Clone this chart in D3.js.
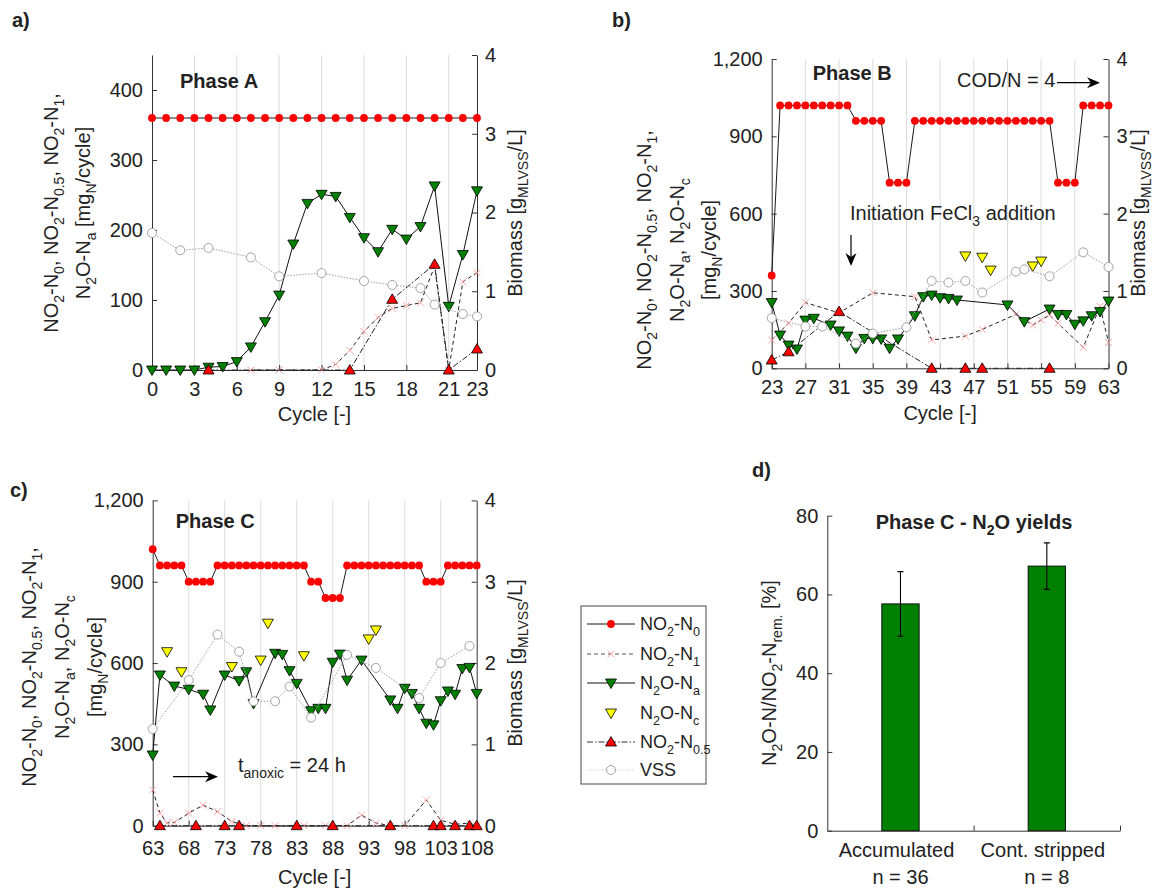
<!DOCTYPE html>
<html><head><meta charset="utf-8">
<script src="https://cdn.jsdelivr.net/npm/d3@7"></script>
<style>body{margin:0;background:#fff}svg{display:block}</style>
</head><body>
<svg id="chart" width="1157" height="890"></svg>
<script>
// ================= DATA =================
// Panel a (Phase A) : [cycle, value]
const A_N0 = [[0,360],[1,360],[2,360],[3,360],[4,360],[5,360],[6,360],[7,360],[8,360],[9,360],[10,360],[11,360],[12,360],[13,360],[14,360],[15,360],[16,360],[17,360],[18,360],[19,360],[20,360],[21,360],[22,360],[23,360]];
const A_N1 = [[7,0],[9,0],[12,0],[13,8],[14,28],[15,55],[16,75],[17,88],[18,92],[19,96],[20,148],[21,0],[22,126],[23,139]];
const A_N2Oa = [[0,0],[1,0],[2,0],[3,0],[4,4],[5,5],[6,12],[7,33],[8,69],[9,107],[10,180],[11,238],[12,251],[13,248],[14,218],[15,189],[16,169],[17,201],[18,187],[19,205],[20,263],[21,91],[22,165],[23,256]];
const A_N2Oc = [];
const A_N05 = [[4,0],[14,0],[17,101],[20,151],[21,0],[23,30]];
const A_VSS = [[0,1.74],[2,1.52],[4,1.55],[7,1.43],[9,1.19],[12,1.23],[15,1.13],[17,1.08],[19,1.04],[20,0.83],[22,0.71],[23,0.68]];

// Panel b (Phase B)
const B_N0 = [[23,360],[24,1020],[25,1020],[26,1020],[27,1020],[28,1020],[29,1020],[30,1020],[31,1020],[32,1020],[33,960],[34,960],[35,960],[36,960],[37,720],[38,720],[39,720],[40,960],[41,960],[42,960],[43,960],[44,960],[45,960],[46,960],[47,960],[48,960],[49,960],[50,960],[51,960],[52,960],[53,960],[54,960],[55,960],[56,960],[57,720],[58,720],[59,720],[60,1020],[61,1020],[62,1020],[63,1020]];
const B_N1 = [[23,110],[25,175],[27,255],[31,215],[35,293],[40,278],[42,110],[46,125],[48,151],[52,209],[54,168],[55,187],[56,207],[57,175],[60,81],[62,240],[63,100]];
const B_N2Oa = [[23,255],[24,129],[25,90],[26,75],[27,187],[28,194],[30,168],[31,145],[32,125],[33,78],[34,116],[35,116],[36,114],[37,78],[38,114],[40,204],[41,278],[42,284],[43,274],[44,271],[45,265],[51,246],[53,181],[56,230],[57,209],[58,209],[59,171],[60,184],[61,204],[62,220],[63,261]];
const B_N2Oc = [[46,436],[48,431],[49,381],[54,397],[55,416]];
const B_N05 = [[23,32],[25,64],[31,220],[42,0],[46,0],[48,0],[56,0]];
const B_VSS = [[23,0.65],[27,0.54],[29,0.54],[33,0.32],[35,0.45],[39,0.53],[42,1.13],[44,1.11],[46,1.13],[48,0.98],[52,1.25],[53,1.28],[56,1.19],[60,1.50],[63,1.31]];

// Panel c (Phase C)
const C_N0 = [[63,1020],[64,960],[65,960],[66,960],[67,960],[68,900],[69,900],[70,900],[71,900],[72,960],[73,960],[74,960],[75,960],[76,960],[77,960],[78,960],[79,960],[80,960],[81,960],[82,960],[83,960],[84,960],[85,900],[86,900],[87,840],[88,840],[89,840],[90,960],[91,960],[92,960],[93,960],[94,960],[95,960],[96,960],[97,960],[98,960],[99,960],[100,960],[101,900],[102,900],[103,900],[104,960],[105,960],[106,960],[107,960],[108,960]];
const C_N1 = [[63,132],[64,47],[65,10],[66,12],[68,46],[70,76],[72,52],[74,15],[76,0],[78,0],[80,0],[84,0],[87,0],[90,0],[92,39],[94,10],[96,0],[98,0],[101,95],[103,20],[105,5],[107,10],[108,0]];
const C_N2Oa = [[63,261],[64,556],[66,515],[68,503],[70,485],[71,427],[73,556],[75,535],[76,568],[77,451],[80,636],[81,632],[82,572],[83,525],[85,424],[86,433],[87,433],[88,603],[89,633],[90,537],[92,611],[96,464],[97,433],[98,507],[99,488],[100,433],[101,378],[102,372],[103,461],[104,497],[105,485],[106,580],[107,584],[108,488]];
const C_N2Oc = [[65,642],[67,568],[74,587],[78,611],[79,747],[84,627],[93,689],[94,722]];
const C_N05 = [[64,0],[69,0],[73,0],[75,0],[83,0],[88,0],[96,0],[102,0],[103,0],[105,0],[107,0],[108,0]];
const C_VSS = [[63,1.19],[68,1.79],[72,2.35],[75,2.14],[77,1.53],[80,1.53],[82,1.71],[85,1.33],[90,2.10],[94,1.94],[100,1.57],[103,2.00],[107,2.21]];

// Panel d (Phase C - N2O yields)
const YIELD_CATS = ["Accumulated", "Cont. stripped"];
const YIELD_N = ["n = 36", "n = 8"];
const YIELD_MEAN = [57.6, 67.2];
const YIELD_ERR = [8.2, 5.9];

// Tick values
const A_CYCLE_TICKS = [0,3,6,9,12,15,18,21,23];
const B_CYCLE_TICKS = [23,27,31,35,39,43,47,51,55,59,63];
const C_CYCLE_TICKS = [63,68,73,78,83,88,93,98,103,108];
const A_N_TICKS = [0,100,200,300,400];
const BC_N_TICKS = [0,300,600,900,1200];
const VSS_TICKS = [0,1,2,3,4];
const YIELD_TICKS = [0,20,40,60,80];

const LEGEND_LABELS = ["NO_2-N_0","NO_2-N_1","N_2O-N_a","N_2O-N_c","NO_2-N_{0.5}","VSS"];

// ================= DRAWING =================
const FONT = "'Liberation Sans', Arial, Helvetica, sans-serif";
const FS = 20;
const AX = "#333333";
const svg = d3.select("#chart").attr("font-family", FONT);
svg.append("rect").attr("width",1157).attr("height",890).attr("fill","#fff");

function rich(textSel, str, fs) {
  const re = /_\{([^}]*)\}|_(.)/g;
  let last = 0, m; const pieces = [];
  while ((m = re.exec(str))) {
    if (m.index > last) pieces.push({t: str.slice(last, m.index), s: false});
    pieces.push({t: m[1] !== undefined ? m[1] : m[2], s: true});
    last = re.lastIndex;
  }
  if (last < str.length) pieces.push({t: str.slice(last), s: false});
  let cur = 0;
  pieces.forEach(p => {
    const target = p.s ? fs * 0.32 : 0;
    textSel.append("tspan").text(p.t).attr("dy", target - cur).attr("font-size", p.s ? fs * 0.7 : fs);
    cur = target;
  });
  return textSel;
}

function label(x, y, str, opts = {}) {
  const fs = opts.fs || FS;
  const t = svg.append("text").attr("x", 0).attr("y", 0)
    .attr("transform", `translate(${x},${y})` + (opts.rot ? ` rotate(${opts.rot})` : ""))
    .attr("text-anchor", opts.anchor || "start")
    .attr("font-weight", opts.bold ? "bold" : "normal")
    .attr("font-size", fs).attr("fill", opts.fill || "#222");
  rich(t, str, fs);
  return t;
}

function arrow(x1, y1, x2, y2) {
  const ang = Math.atan2(y2 - y1, x2 - x1);
  const bx = x2 - 9 * Math.cos(ang), by = y2 - 9 * Math.sin(ang);
  svg.append("line").attr("x1", x1).attr("y1", y1).attr("x2", bx).attr("y2", by)
    .attr("stroke", "#000").attr("stroke-width", 1.2);
  svg.append("path").attr("d", "M0,0 L-13,-5.5 L-9,0 L-13,5.5 Z")
    .attr("transform", `translate(${x2},${y2}) rotate(${ang * 180 / Math.PI})`).attr("fill", "#000");
}

const triDown = "M-5.5,-4 L5.5,-4 L0,5.5 Z";
const triUp = "M-5.5,4 L5.5,4 L0,-5.5 Z";

function styleAxis(a) {
  a.attr("font-size", FS).attr("font-family", FONT).attr("color", AX);
  a.selectAll("text").attr("fill", "#222");
  a.select(".domain").attr("stroke-width", 1);
}

function drawMarkers(g, data, x, y, kind) {
  const sel = g.append("g");
  data.forEach(d => {
    const px = x(d[0]), py = y(d[1]);
    if (kind === "dot") sel.append("circle").attr("cx", px).attr("cy", py).attr("r", 3.9).attr("fill", "#ff0000");
    else if (kind === "green") sel.append("path").attr("d", triDown).attr("transform", `translate(${px},${py})`).attr("fill", "#008000").attr("stroke", "#000").attr("stroke-width", 0.8);
    else if (kind === "yellow") sel.append("path").attr("d", triDown).attr("transform", `translate(${px},${py})`).attr("fill", "#ffff00").attr("stroke", "#000").attr("stroke-width", 0.8);
    else if (kind === "red") sel.append("path").attr("d", triUp).attr("transform", `translate(${px},${py})`).attr("fill", "#ff0000").attr("stroke", "#000").attr("stroke-width", 0.8);
    else if (kind === "cross") sel.append("path").attr("d", "M-3.5,-3.5 L3.5,3.5 M-3.5,3.5 L3.5,-3.5").attr("transform", `translate(${px},${py})`).attr("stroke", "#ff9c9c").attr("stroke-width", 0.9).attr("fill", "none");
    else if (kind === "circle") sel.append("circle").attr("cx", px).attr("cy", py).attr("r", 4.5).attr("fill", "#fff").attr("stroke", "#9a9a9a").attr("stroke-width", 0.9);
  });
}

function panel(p) {
  const x = d3.scaleLinear().domain(p.xDomain).range([p.x0, p.x1]);
  const yL = d3.scaleLinear().domain(p.yLDomain).range([p.yBot, p.yTop]);
  const yR = d3.scaleLinear().domain([0, 4]).range([p.yBot, p.yTop]);
  const g = svg.append("g");
  g.selectAll("line.grid").data(p.xTicks.filter(t => t > p.xDomain[0] && t < p.xDomain[1])).join("line")
    .attr("x1", d => x(d)).attr("x2", d => x(d)).attr("y1", p.yTop).attr("y2", p.yBot)
    .attr("stroke", "#dcdcdc").attr("stroke-width", 1);
  const axL = g.append("g").attr("transform", `translate(${p.x0},0)`)
    .call(d3.axisLeft(yL).tickValues(p.yLTicks).tickFormat(d3.format(",")).tickSize(-5).tickSizeOuter(0).tickPadding(9));
  const axR = g.append("g").attr("transform", `translate(${p.x1},0)`)
    .call(d3.axisRight(yR).tickValues(VSS_TICKS).tickFormat(d3.format("d")).tickSize(-5).tickSizeOuter(0).tickPadding(8));
  const axB = g.append("g").attr("transform", `translate(0,${p.yBot})`)
    .call(d3.axisBottom(x).tickValues(p.xTicks).tickFormat(d3.format("d")).tickSize(-5).tickSizeOuter(0).tickPadding(p.xPad));
  [axL, axR, axB].forEach(styleAxis);

  const lineL = d3.line().x(d => x(d[0])).y(d => yL(d[1]));
  const lineR = d3.line().x(d => x(d[0])).y(d => yR(d[1]));
  // NO2-N0
  g.append("path").attr("d", lineL(p.s.N0)).attr("fill", "none").attr("stroke", "#1a1a1a").attr("stroke-width", 1);
  drawMarkers(g, p.s.N0, x, yL, "dot");
  // NO2-N1
  g.append("path").attr("d", lineL(p.s.N1)).attr("fill", "none").attr("stroke", "#222").attr("stroke-width", 1).attr("stroke-dasharray", "4,3");
  drawMarkers(g, p.s.N1, x, yL, "cross");
  // N2O-Na
  g.append("path").attr("d", lineL(p.s.N2Oa)).attr("fill", "none").attr("stroke", "#111").attr("stroke-width", 1);
  drawMarkers(g, p.s.N2Oa, x, yL, "green");
  // N2O-Nc
  drawMarkers(g, p.s.N2Oc, x, yL, "yellow");
  // NO2-N0.5
  g.append("path").attr("d", lineL(p.s.N05)).attr("fill", "none").attr("stroke", "#222").attr("stroke-width", 1).attr("stroke-dasharray", "6,2,1.5,2");
  drawMarkers(g, p.s.N05, x, yL, "red");
  // VSS
  g.append("path").attr("d", lineR(p.s.VSS)).attr("fill", "none").attr("stroke", "#a0a0a0").attr("stroke-width", 1).attr("stroke-dasharray", "1.5,1.5");
  drawMarkers(g, p.s.VSS, x, yR, "circle");

  // axis labels
  p.yLabel.forEach((s, i) => label(p.yLabelX[i], p.yLabelY, s, {rot: -90, anchor: "middle"}));
  label(p.yRLabelX, p.yRLabelY, "Biomass [g_{MLVSS}/L]", {rot: -90, anchor: "middle"});
  label((p.x0 + p.x1) / 2, p.yBot + p.xLabOff, "Cycle [-]", {anchor: "middle"});
}

panel({
  x0: 152, x1: 477, yTop: 55, yBot: 370, xDomain: [0, 23], yLDomain: [0, 450],
  xTicks: A_CYCLE_TICKS, yLTicks: A_N_TICKS, xPad: 12, xLabOff: 51,
  s: {N0: A_N0, N1: A_N1, N2Oa: A_N2Oa, N2Oc: A_N2Oc, N05: A_N05, VSS: A_VSS},
  yLabel: ["NO_2-N_0, NO_2-N_{0.5}, NO_2-N_1,", "N_2O-N_a [mg_N/cycle]"], yLabelX: [58, 90], yLabelY: 213,
  yRLabelX: 522, yRLabelY: 213
});
panel({
  x0: 771.7, x1: 1108.5, yTop: 59, yBot: 368.3, xDomain: [23, 63], yLDomain: [0, 1200],
  xTicks: B_CYCLE_TICKS, yLTicks: BC_N_TICKS, xPad: 12, xLabOff: 52,
  s: {N0: B_N0, N1: B_N1, N2Oa: B_N2Oa, N2Oc: B_N2Oc, N05: B_N05, VSS: B_VSS},
  yLabel: ["NO_2-N_0, NO_2-N_{0.5}, NO_2-N_1,", "N_2O-N_a, N_2O-N_c", "[mg_N/cycle]"], yLabelX: [651, 684, 716], yLabelY: 250,
  yRLabelX: 1145, yRLabelY: 213
});
panel({
  x0: 152.7, x1: 476.7, yTop: 500.4, yBot: 825.7, xDomain: [63, 108], yLDomain: [0, 1200],
  xTicks: C_CYCLE_TICKS, yLTicks: BC_N_TICKS, xPad: 15, xLabOff: 58,
  s: {N0: C_N0, N1: C_N1, N2Oa: C_N2Oa, N2Oc: C_N2Oc, N05: C_N05, VSS: C_VSS},
  yLabel: ["NO_2-N_0, NO_2-N_{0.5}, NO_2-N_1,", "N_2O-N_a, N_2O-N_c", "[mg_N/cycle]"], yLabelX: [36, 69, 102], yLabelY: 667,
  yRLabelX: 522, yRLabelY: 663
});

// annotations
label(12, 27, "a)", {bold: true});
label(612, 27, "b)", {bold: true});
label(10, 497, "c)", {bold: true});
label(752, 477, "d)", {bold: true});
label(180, 88, "Phase A", {bold: true});
label(812.7, 80, "Phase B", {bold: true});
label(175.7, 528.3, "Phase C", {bold: true});
label(957, 87, "COD/N = 4");
arrow(1057, 82.7, 1100, 82.7);
label(850, 220, "Initiation FeCl_3 addition");
arrow(851, 235, 851, 266);
label(238, 771.7, "t_{anoxic} = 24 h");
arrow(173, 776.7, 218, 776.7);

// legend
(function () {
  const lx = 581, ly = 606, lw = 125, lh = 178;
  svg.append("rect").attr("x", lx).attr("y", ly).attr("width", lw).attr("height", lh)
    .attr("fill", "#fff").attr("stroke", "#666").attr("stroke-width", 1.2);
  const rows = [624, 654, 683, 713, 742, 770];
  const styles = [
    {dash: null, col: "#111", mk: "dot"},
    {dash: "4,3", col: "#555", mk: "cross"},
    {dash: null, col: "#111", mk: "green"},
    {dash: "none", col: null, mk: "yellow"},
    {dash: "6,2,1.5,2", col: "#333", mk: "red"},
    {dash: "1.5,1.5", col: "#d0d0d0", mk: "circle"}
  ];
  const lgx = d3.scaleLinear().domain([0, 1]).range([587, 635]);
  LEGEND_LABELS.forEach((lab, i) => {
    const st = styles[i], y = rows[i];
    if (st.col) svg.append("line").attr("x1", lgx(0)).attr("x2", lgx(1)).attr("y1", y).attr("y2", y)
      .attr("stroke", st.col).attr("stroke-width", 1).attr("stroke-dasharray", st.dash);
    drawMarkers(svg, [[0.5, y]], lgx, v => v, st.mk);
    label(640, y + 6, lab, {fs: 18});
  });
})();

// panel d
(function () {
  const x0 = 827.3, x1 = 1120, yTop = 515.7, yBot = 830.7;
  const xb = d3.scaleBand().domain(YIELD_CATS).range([x0, x1]);
  const xt = d3.scaleLinear().domain([0.5, 2.5]).range([x0, x1]);
  const y = d3.scaleLinear().domain([0, 80]).range([yBot, yTop]);
  const g = svg.append("g");
  const axL = g.append("g").attr("transform", `translate(${x0},0)`)
    .call(d3.axisLeft(y).tickValues(YIELD_TICKS).tickSize(-5).tickSizeOuter(0).tickPadding(9));
  const axB = g.append("g").attr("transform", `translate(0,${yBot})`)
    .call(d3.axisBottom(xt).tickValues([1.5, 2.5]).tickFormat("").tickSize(-5).tickSizeOuter(0));
  [axL, axB].forEach(styleAxis);
  const bw = xb.bandwidth() * 0.255;
  YIELD_CATS.forEach((c, i) => {
    const cx = xb(c) + xb.bandwidth() / 2;
    g.append("rect").attr("x", cx - bw / 2).attr("y", y(YIELD_MEAN[i])).attr("width", bw)
      .attr("height", y(0) - y(YIELD_MEAN[i])).attr("fill", "#008000").attr("stroke", "#111").attr("stroke-width", 1);
    const hi = y(YIELD_MEAN[i] + YIELD_ERR[i]), lo = y(YIELD_MEAN[i] - YIELD_ERR[i]);
    g.append("path").attr("d", `M${cx},${hi} V${lo} M${cx - 3},${hi} H${cx + 3} M${cx - 3},${lo} H${cx + 3}`)
      .attr("stroke", "#000").attr("stroke-width", 1.1).attr("fill", "none");
    label(cx - 4, 857, c, {anchor: "middle"});
    label(cx, 884, YIELD_N[i], {anchor: "middle"});
  });
  label(974, 529, "Phase C - N_2O yields", {bold: true, anchor: "middle"});
  label(776, 673, "N_2O-N/NO_2-N_{rem.} [%]", {rot: -90, anchor: "middle"});
})();
</script>
</body></html>
